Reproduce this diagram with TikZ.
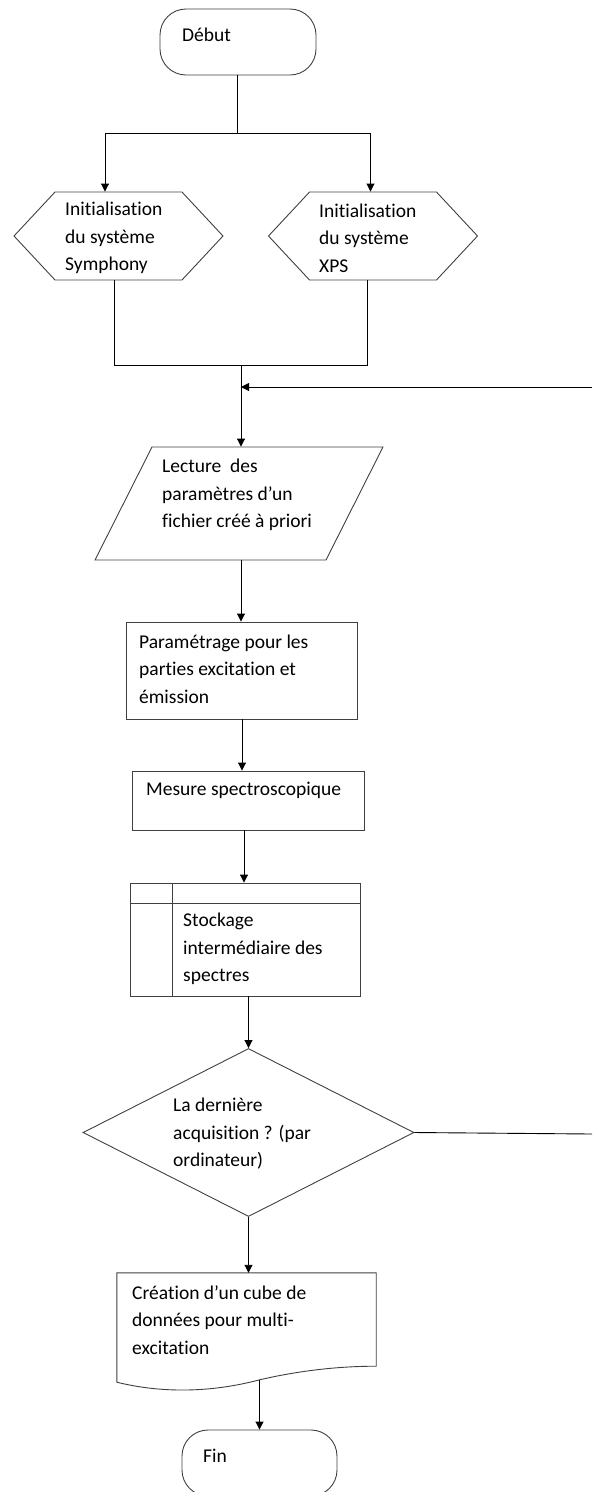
\documentclass[tikz,border=0pt]{standalone}
\usepackage{fontspec}
\setmainfont{Carlito}[Ligatures=NoCommon]
\usepackage{tikz}
\usetikzlibrary{shapes.geometric, shapes.symbols, arrows.meta, positioning, calc}
\definecolor{shapeline}{HTML}{404040}
\tikzset{
    flow base/.style={
        draw=shapeline,
        line width=0.9pt,
        inner sep=0pt
    },
    flow term/.style={
        flow base,
        rectangle,
        rounded corners=26pt,
        minimum width=156pt,
        minimum height=66pt
    },
    flow prep/.style={
        flow base,
        signal,
        signal to=west and east,
        signal pointer angle=94,
        minimum width=209pt,
        minimum height=88pt
    },
    flow io/.style={
        flow base,
        rectangle,
        xslant=0.504,
        transform shape,
        minimum width=231pt,
        minimum height=113pt
    },
    flow proc/.style={
        flow base,
        rectangle
    },
    flow test/.style={
        flow base,
        diamond,
        minimum width=331pt,
        minimum height=168pt
    },
    flow text/.style={
        anchor=west,
        align=left,
        inner sep=0pt,
        font=\fontsize{19.5}{27.5}\selectfont
    },
    flow arrow/.style={
        line width=0.9pt,
        -{Triangle[length=8pt, width=8pt]}
    },
    flow line/.style={
        line width=0.9pt
    }
}

\begin{document}
\begin{tikzpicture}[x=1pt, y=-1pt]
                \useasboundingbox (0,0) rectangle (592,1492);

                % Terminals
                \node[flow term] (debut) at (238,42) {};
                \node[flow text] (debut-t) at (182,35) {Début};

                % Initialisations
                \node[flow prep] (symph) at (118.5,236) {};
                \node[flow text] (symph-t) at (65,238) {Initialisation\\du système\\Symphony};
                \node[flow prep] (xps) at (373,236) {};
                \node[flow text] (xps-t) at (319,238) {Initialisation\\du système\\XPS};

                % Lecture
                \node[flow io] (lect) at (239,503.5) {};
                \node[flow text] (lect-t) at (162,495) {Lecture\ \ des\\paramètres d’un\\fichier créé à priori};

                % Traitements
                \node[flow proc, minimum width=231pt, minimum height=97pt] (param) at (241.5,670.5) {};
                \node[flow text] (param-t) at (139,669) {Paramétrage pour les\\parties excitation et\\émission};
                \node[flow proc, minimum width=232pt, minimum height=59pt] (mesure) at (248,800.5) {};
                \node[flow text] (mesure-t) at (146,790) {Mesure spectroscopique};

                % Stockage interne
                \node[flow proc, minimum width=230pt, minimum height=113pt] (stock) at (245,939.5) {};
                \draw[flow base] ($(stock.north west)+(43,0)$) -- ($(stock.south west)+(43,0)$);
                \draw[flow base] ($(stock.north west)+(0,21)$) -- ($(stock.north east)+(0,21)$);
                \node[flow text] (stock-t) at (183,949) {Stockage\\intermédiaire des\\spectres};

                % Test
                \node[flow test] (decis) at (248.5,1132.5) {};
                \node[flow text] (decis-t) at (173,1134) {La dernière\\acquisition ? (par\\ordinateur)};

                % Document
                \node[minimum width=259pt, minimum height=109pt, inner sep=0pt] (creat) at (246.5,1327.5) {};
                \draw[flow base] (creat.north west) -- (creat.north east) -- ($(creat.south east)+(0,-16)$)
                    .. controls ($(creat.south east)+(-36,-16)$) and ($(creat.south east)+(-76,-12)$) .. ($(creat.south)+(11.5,-2)$)
                    .. controls ($(creat.south west)+(103,8)$) and ($(creat.south west)+(53,13)$) .. (creat.south west) -- cycle;
                \node[flow text] (creat-t) at (132,1320) {Création d’un cube de\\données pour multi-\\excitation};

                \node[flow term, minimum width=155pt] (fin) at (259.5,1463) {};
                \node[flow text] (fin-t) at (203,1456) {Fin};

                % Connectors
                \coordinate (fork) at (237,133);
                \coordinate (join) at (241,365);
                \coordinate (loopin) at (241,387);
                \coordinate (edgeR) at (592,387);
                \coordinate (edgeD) at (592,1134);
                \coordinate (wave) at (259.5,1380);

                \draw[flow line] (fork |- debut.south) -- (fork);
                \draw[flow arrow] (fork) -| ([xshift=-13.5pt]symph.north);
                \draw[flow arrow] (fork) -| ([xshift=-2.5pt]xps.north);
                \draw[flow line] ([xshift=-4.5pt]symph.south) |- (join);
                \draw[flow line] ([xshift=-6pt]xps.south) |- (join);
                \draw[flow arrow] (join) -- (join |- lect.north);
                \draw[flow arrow] (edgeR) -- (loopin);
                \draw[flow arrow] (join |- lect.south) -- (join |- param.north);
                \draw[flow arrow] ([xshift=0.5pt]param.south) -- ([xshift=0.5pt]param.south |- mesure.north);
                \draw[flow arrow] ([xshift=-4pt]mesure.south) -- ([xshift=-4pt]mesure.south |- stock.north);
                \draw[flow arrow] (decis.north |- stock.south) -- (decis.north);
                \draw[flow line] (decis.east) -- (edgeD);
                \draw[flow arrow] (decis.south) -- (decis.south |- creat.north);
                \draw[flow arrow] (wave) -- (fin.north);
\end{tikzpicture}
\end{document}
